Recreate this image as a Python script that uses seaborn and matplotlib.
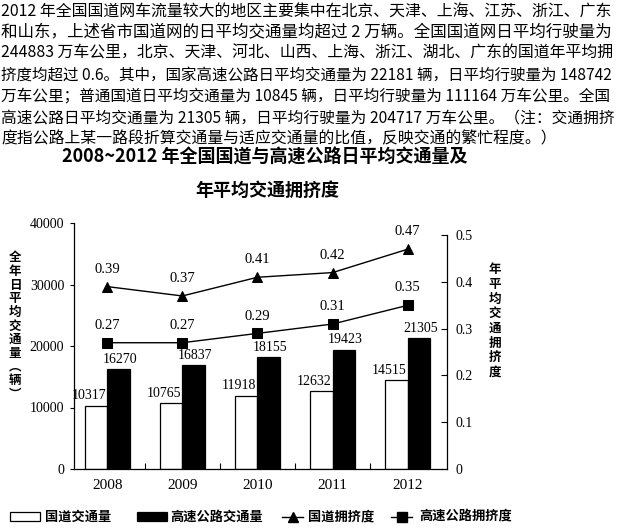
import numpy as np
import pandas as pd
import matplotlib
matplotlib.use("Agg")
import matplotlib.pyplot as plt
import seaborn as sns
from matplotlib.patches import Rectangle
from matplotlib.lines import Line2D

# ---------------- data ----------------
years = ["2008", "2009", "2010", "2011", "2012"]
guodao_volume = [10317, 10765, 11918, 12632, 14515]
highway_volume = [16270, 16837, 18155, 19423, 21305]
guodao_congestion = [0.39, 0.37, 0.41, 0.42, 0.47]
highway_congestion = [0.27, 0.27, 0.29, 0.31, 0.35]
series_names = ["国道交通量", "高速公路交通量", "国道拥挤度", "高速公路拥挤度"]
left_ticks = [0, 10000, 20000, 30000, 40000]
right_ticks = [0, 0.1, 0.2, 0.3, 0.4, 0.5]
right_tick_labels = ["0", "0.1", "0.2", "0.3", "0.4", "0.5"]
left_ylabel = "全年日平均交通量︵辆︶"
right_ylabel = "年平均交通拥挤度"
title_lines = ["2008~2012 年全国国道与高速公路日平均交通量及", "年平均交通拥挤度"]
paragraph_lines = [
    "2012 年全国国道网车流量较大的地区主要集中在北京、天津、上海、江苏、浙江、广东",
    "和山东，上述省市国道网的日平均交通量均超过 2 万辆。全国国道网日平均行驶量为",
    "244883 万车公里，北京、天津、河北、山西、上海、浙江、湖北、广东的国道年平均拥",
    "挤度均超过 0.6。其中，国家高速公路日平均交通量为 22181 辆，日平均行驶量为 148742",
    "万车公里；普通国道日平均交通量为 10845 辆，日平均行驶量为 111164 万车公里。全国",
    "高速公路日平均交通量为 21305 辆，日平均行驶量为 204717 万车公里。（注：交通拥挤",
    "度指公路上某一路段折算交通量与适应交通量的比值，反映交通的繁忙程度。）",
]

CJK = ["Noto Sans CJK SC", "DejaVu Sans"]
SERIF = ["Liberation Serif", "DejaVu Serif"]

W, H = 618, 528
fig = plt.figure(figsize=(W / 100, H / 100), dpi=100)
fig.patch.set_facecolor("white")


def fx(px):
    return px / W


def fy(py):
    return 1 - py / H


ax = fig.add_axes([fx(74), fy(469), 373 / W, 246 / H])

df = pd.DataFrame({
    "year": years * 2,
    "volume": guodao_volume + highway_volume,
    "series": [series_names[0]] * len(years) + [series_names[1]] * len(years),
})
sns.barplot(data=df, x="year", y="volume", hue="series",
            palette={series_names[0]: "white", series_names[1]: "black"},
            width=0.6, gap=0, saturation=1, edgecolor="black", linewidth=0.9,
            errorbar=None, legend=False, ax=ax)

# bar value labels
for ci, cont in enumerate(ax.containers):
    for bar in cont:
        h = bar.get_height()
        cx = bar.get_x() + bar.get_width() / 2
        dx = -5 if ci == 0 else 1
        ax.annotate(f"{int(round(h))}", (cx, h), xytext=(dx, 7), textcoords="offset points",
                    ha="center", va="center", fontsize=10, family=SERIF, color="black")

ax2 = ax.twinx()
xpos = np.arange(len(years))
sns.lineplot(x=xpos, y=guodao_congestion, ax=ax2, color="black", marker="^",
             markersize=7.5, markeredgecolor="black", markerfacecolor="black",
             linewidth=1.0)
sns.lineplot(x=xpos, y=highway_congestion, ax=ax2, color="black", marker="s",
             markersize=7.5, markeredgecolor="black", markerfacecolor="black",
             linewidth=1.0)
for vals in (guodao_congestion, highway_congestion):
    for i, v in enumerate(vals):
        ax2.annotate(f"{v:.2f}", (i, v), xytext=(0, 12.5), textcoords="offset points",
                     ha="center", va="center", fontsize=10.5, family=SERIF, color="black")

# axes limits
ax.set_xlim(-0.443, 4.523)
ax.set_ylim(0, 40000)
ax2.set_ylim(0, 0.526)

# ticks
ax.set_yticks(left_ticks)
ax.set_yticklabels([str(t) for t in left_ticks], fontsize=10, family=SERIF)
ax.tick_params(axis="y", direction="out", length=3, width=0.8, pad=4)
ax.set_xticks(range(len(years)))
ax.set_xticklabels(years, fontsize=11, family=SERIF)
ax.tick_params(axis="x", which="major", length=0, pad=7)
ax.set_xticks(np.arange(0.5, len(years) - 1, 1), minor=True)
ax.tick_params(axis="x", which="minor", direction="in", length=4, width=0.8)

ax2.set_yticks(right_ticks)
ax2.set_yticklabels(right_tick_labels, fontsize=10, family=SERIF)
ax2.tick_params(axis="y", direction="in", length=4, width=0.8, pad=6)

for a in (ax, ax2):
    a.set_xlabel("")
    a.set_ylabel("")
    a.set_facecolor("none")
ax.spines["top"].set_visible(False)
ax.spines["right"].set_visible(False)
ax2.spines["top"].set_visible(False)
ax2.spines["left"].set_visible(False)
ax2.spines["bottom"].set_visible(False)
ax2.spines["right"].set_bounds(0, 0.5)
for sp in ("left", "bottom"):
    ax.spines[sp].set_linewidth(0.9)
ax2.spines["right"].set_linewidth(0.9)

# vertical axis labels (stacked characters)
for k, ch in enumerate(left_ylabel):
    fig.text(fx(15), fy(258 + 13.6 * k), ch, ha="center", va="center",
             fontsize=9, weight="bold", family=CJK)
for k, ch in enumerate(right_ylabel):
    fig.text(fx(495), fy(270 + 14.6 * k), ch, ha="center", va="center",
             fontsize=9, weight="bold", family=CJK)

# title
fig.text(fx(265), fy(157), title_lines[0], ha="center", va="center",
         fontsize=13, weight="bold", family=CJK)
fig.text(fx(267), fy(190), title_lines[1], ha="center", va="center",
         fontsize=13, weight="bold", family=CJK)

# paragraph
fig.canvas.draw()
renderer = fig.canvas.get_renderer()
line_y = [11.7, 32.5, 53.5, 75, 96.5, 118, 139.3]
base_fs = 11.4
for k, line in enumerate(paragraph_lines):
    t = fig.text(fx(1), fy(line_y[k]), line, ha="left", va="center",
                 fontsize=base_fs, family=CJK, color="black")
    if k < len(paragraph_lines) - 1:
        w = t.get_window_extent(renderer).width
        t.set_fontsize(base_fs * 613 / w)

# legend (manual, figure coordinates)
ly = 516.5
fig.add_artist(Rectangle((fx(10), fy(ly + 4.5)), 30 / W, 9 / H, transform=fig.transFigure,
                         facecolor="white", edgecolor="black", linewidth=0.9))
fig.text(fx(45), fy(ly), series_names[0], ha="left", va="center", fontsize=9.5,
         weight="bold", family=CJK)
fig.add_artist(Rectangle((fx(137), fy(ly + 4.5)), 30 / W, 9 / H, transform=fig.transFigure,
                         facecolor="black", edgecolor="black", linewidth=0.9))
fig.text(fx(170), fy(ly), series_names[1], ha="left", va="center", fontsize=9.5,
         weight="bold", family=CJK)
fig.add_artist(Line2D([fx(282), fx(303)], [fy(ly), fy(ly)], transform=fig.transFigure,
                      color="black", linewidth=1.0))
fig.add_artist(Line2D([fx(292.5)], [fy(ly)], transform=fig.transFigure, color="black",
                      marker="^", markersize=6.5, linestyle="none"))
fig.text(fx(308), fy(ly), series_names[2], ha="left", va="center", fontsize=9.5,
         weight="bold", family=CJK)
fig.add_artist(Line2D([fx(391), fx(412)], [fy(ly), fy(ly)], transform=fig.transFigure,
                      color="black", linewidth=1.0))
fig.add_artist(Line2D([fx(401.5)], [fy(ly)], transform=fig.transFigure, color="black",
                      marker="s", markersize=6.5, linestyle="none"))
fig.text(fx(419), fy(ly), series_names[3], ha="left", va="center", fontsize=9.5,
         weight="bold", family=CJK)

fig.savefig("out.png", dpi=100, facecolor="white")
